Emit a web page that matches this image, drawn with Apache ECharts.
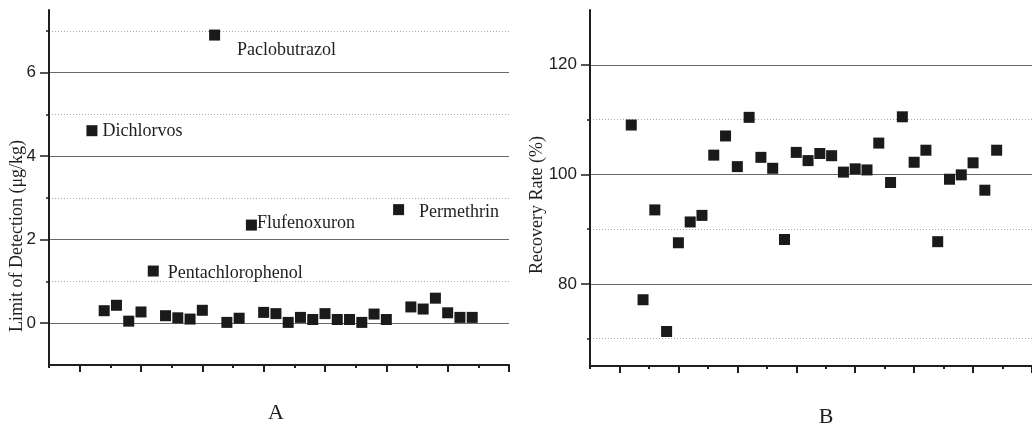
<!DOCTYPE html>
<html>
<head>
<meta charset="utf-8">
<script src="https://cdn.jsdelivr.net/npm/echarts@6/dist/echarts.min.js"></script>
<style>
  html, body { margin: 0; padding: 0; background: #fff; }
  #main { width: 1032px; height: 429px; }
</style>
</head>
<body>
<div id="main"></div>
<script>
// sample number 1..32 (same pesticides in both panels)
var samples = [1, 2, 3, 4, 5, 6, 7, 8, 9, 10, 11, 12, 13, 14, 15, 16,
               17, 18, 19, 20, 21, 22, 23, 24, 25, 26, 27, 28, 29, 30, 31, 32];

// panel A: limit of detection (ug/kg)
var lodValues = [4.61, 0.30, 0.43, 0.05, 0.27, 1.25, 0.18, 0.13, 0.10, 0.31, 6.90, 0.02,
                 0.12, 2.35, 0.26, 0.23, 0.02, 0.14, 0.09, 0.23, 0.09, 0.09, 0.02, 0.22,
                 0.09, 2.72, 0.39, 0.34, 0.60, 0.25, 0.14, 0.14];
// names written next to the outliers, '' = no label
var lodNames = ['Dichlorvos', '', '', '', '', 'Pentachlorophenol', '', '', '', '', 'Paclobutrazol', '',
                '', 'Flufenoxuron', '', '', '', '', '', '', '', '', '', '',
                '', 'Permethrin', '', '', '', '', '', ''];

// panel B: recovery rate (%)
var recoveryValues = [109.0, 77.1, 93.5, 71.3, 87.5, 91.3, 92.5, 103.5, 107.0, 101.4, 110.4, 103.1,
                      101.1, 88.1, 104.0, 102.5, 103.8, 103.4, 100.4, 101.0, 100.8, 105.7, 98.5, 110.5,
                      102.2, 104.4, 87.7, 99.1, 99.9, 102.1, 97.1, 104.4];

// tick values
var lodMajorTicks = [0, 2, 4, 6];
var lodMinorTicks = [1, 3, 5, 7];
var recMajorTicks = [80, 100, 120];
var recMinorTicks = [70, 90, 110];
var xMajorTicks = [0, 5, 10, 15, 20, 25, 30, 35];

// label placement tweaks for the named points
var labelOffsets = {
    'Dichlorvos': [0, 1],
    'Pentachlorophenol': [4, 2],
    'Paclobutrazol': [12, 15],
    'Flufenoxuron': [-5, -2],
    'Permethrin': [10, 3]
};

var ink = '#1e1e1e';
var serif = '"Liberation Serif", "Times New Roman", serif';
var sans = '"Liberation Sans", Arial, sans-serif';

var myChart = echarts.init(document.getElementById('main'));

function xAxes(grid) {
    return [{
        gridIndex: grid, type: 'value', position: 'bottom', min: -2.5, max: 35, interval: 2.5,
        axisLine: { show: true, onZero: false, lineStyle: { color: ink, width: 2 } },
        axisTick: { show: true, length: 3, lineStyle: { color: ink, width: 2 } },
        axisLabel: { show: false }, splitLine: { show: false }
    }, {
        gridIndex: grid, type: 'value', position: 'bottom', min: -2.5, max: 35,
        axisLine: { show: false, onZero: false },
        axisTick: { show: true, length: 7, customValues: xMajorTicks, lineStyle: { color: ink, width: 2 } },
        axisLabel: { show: false }, splitLine: { show: false }
    }];
}

function yAxes(grid, min, max, major, minor) {
    return [{
        gridIndex: grid, type: 'value', position: 'left', min: min, max: max,
        axisLine: { show: true, onZero: false, lineStyle: { color: ink, width: 2 } },
        axisTick: { show: true, length: 9, customValues: major, lineStyle: { color: ink, width: 1.5 } },
        axisLabel: { show: true, customValues: major, margin: 13, color: ink, fontSize: 17, fontFamily: sans },
        splitLine: { show: true, lineStyle: { color: '#6a6a6a', width: 1, type: 'solid' } }
    }, {
        gridIndex: grid, type: 'value', position: 'left', min: min, max: max,
        axisLine: { show: false, onZero: false },
        axisTick: { show: true, length: 3, customValues: minor, lineStyle: { color: ink, width: 1.5 } },
        axisLabel: { show: false },
        splitLine: { show: true, lineStyle: { color: '#aaa', width: 1, type: [1, 2] } }
    }];
}

var lodData = lodValues.map(function (v, i) {
    var name = lodNames[i];
    var item = { value: [samples[i], v], name: name };
    if (name) {
        item.label = { show: true, offset: labelOffsets[name] };
    }
    return item;
});

var recData = recoveryValues.map(function (v, i) {
    return [samples[i], v];
});

myChart.setOption({
    animation: false,
    backgroundColor: '#fff',
    grid: [
        { left: 49, top: 10, right: 523, bottom: 64 },
        { left: 590, top: 10, right: -10, bottom: 63 }
    ],
    xAxis: xAxes(0).concat(xAxes(1)),
    yAxis: yAxes(0, -1, 7.5, lodMajorTicks, lodMinorTicks)
        .concat(yAxes(1, 65, 130, recMajorTicks, recMinorTicks)),
    series: [{
        type: 'scatter', xAxisIndex: 0, yAxisIndex: 0,
        symbol: 'rect', symbolSize: 11,
        itemStyle: { color: '#1a1a1a', opacity: 1 },
        label: {
            show: false, position: 'right', distance: 5,
            formatter: function (p) { return p.name; },
            color: ink, fontSize: 18, fontFamily: serif
        },
        data: lodData
    }, {
        type: 'scatter', xAxisIndex: 2, yAxisIndex: 2,
        symbol: 'rect', symbolSize: 11,
        itemStyle: { color: '#1a1a1a', opacity: 1 },
        data: recData
    }],
    graphic: [{
        type: 'text', x: 17, y: 236, rotation: Math.PI / 2,
        style: { text: 'Limit of Detection (\u03bcg/kg)', font: '18px ' + serif, fill: ink,
                 align: 'center', verticalAlign: 'middle', textAlign: 'center', textVerticalAlign: 'middle' }
    }, {
        type: 'text', x: 537, y: 205, rotation: Math.PI / 2,
        style: { text: 'Recovery Rate (%)', font: '18px ' + serif, fill: ink,
                 align: 'center', verticalAlign: 'middle', textAlign: 'center', textVerticalAlign: 'middle' }
    }, {
        type: 'text', x: 276, y: 413,
        style: { text: 'A', font: '22px ' + serif, fill: ink,
                 align: 'center', verticalAlign: 'middle', textAlign: 'center', textVerticalAlign: 'middle' }
    }, {
        type: 'text', x: 826, y: 417,
        style: { text: 'B', font: '22px ' + serif, fill: ink,
                 align: 'center', verticalAlign: 'middle', textAlign: 'center', textVerticalAlign: 'middle' }
    }]
});
</script>
</body>
</html>
